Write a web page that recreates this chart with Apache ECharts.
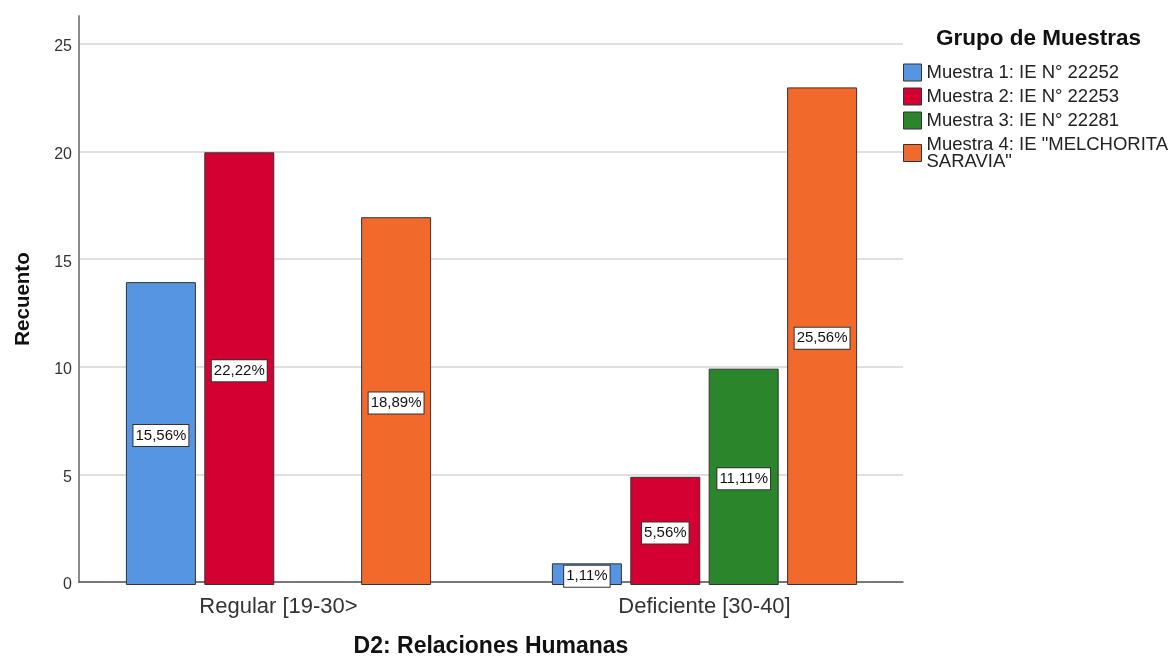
<!DOCTYPE html>
<html>
<head>
<meta charset="utf-8">
<script src="https://cdn.jsdelivr.net/npm/echarts@6/dist/echarts.min.js"></script>
<style>
  html, body { margin: 0; padding: 0; background: #ffffff; }
  #chart { width: 1173px; height: 663px; }
</style>
</head>
<body>
<div id="chart"></div>
<script>
// Recuento por nivel de la dimensión D2 y grupo de muestras
const categories = ['Regular [19-30>', 'Deficiente [30-40]'];
const seriesNames = [
  'Muestra 1: IE N° 22252',
  'Muestra 2: IE N° 22253',
  'Muestra 3: IE N° 22281',
  'Muestra 4: IE "MELCHORITA\nSARAVIA"'
];
const muestra1 = [14, 1];
const muestra2 = [20, 5];
const muestra3 = [null, 10];
const muestra4 = [17, 23];
const yTicks = [0, 5, 10, 15, 20, 25];

const colors = ['#5595e1', '#d50032', '#2b862b', '#f2692c'];
const FONT = '"Liberation Sans", Arial, Helvetica, sans-serif';

// Total de casos: los porcentajes de las etiquetas son recuento / total
const allValues = [muestra1, muestra2, muestra3, muestra4];
const total = allValues.flat().filter(v => v != null).reduce((a, b) => a + b, 0);

function pctLabel(p) {
  return (p.value / total * 100).toFixed(2).replace('.', ',') + '%';
}

const chart = echarts.init(document.getElementById('chart'), null, { renderer: 'canvas' });

const yMax = 26.3;

const series = allValues.map((vals, i) => ({
  name: seriesNames[i],
  type: 'bar',
  xAxisIndex: 1,
  yAxisIndex: 1,
  data: vals,
  barWidth: 70,
  barGap: '12%',
  itemStyle: { color: colors[i], borderColor: '#333333', borderWidth: 1 },
  label: {
    show: true,
    position: 'inside',
    offset: [0, 2],
    formatter: pctLabel,
    fontFamily: FONT,
    fontSize: 15,
    lineHeight: 17,
    color: '#111111',
    backgroundColor: '#ffffff',
    borderColor: '#333333',
    borderWidth: 1,
    padding: [2, 2, 2, 2]
  },
  emphasis: { disabled: true }
}));

chart.setOption({
  animation: false,
  backgroundColor: '#ffffff',
  textStyle: { fontFamily: FONT },
  grid: [
    // frame with axis lines and gridlines
    { left: 79, top: 16, width: 824, height: 569, containLabel: false },
    // bars and category labels
    { left: 65.5, top: 16, width: 852, height: 569, containLabel: false }
  ],
  xAxis: [
    {
      gridIndex: 0,
      type: 'category',
      data: categories,
      axisLine: { show: true, lineStyle: { color: '#555555', width: 1.5 } },
      axisTick: { show: false },
      axisLabel: { show: false },
      splitLine: { show: false },
      name: 'D2: Relaciones Humanas',
      nameLocation: 'middle',
      nameGap: 53,
      nameTextStyle: { fontFamily: FONT, fontSize: 23, fontWeight: 'bold', color: '#111111' }
    },
    {
      gridIndex: 1,
      type: 'category',
      data: categories,
      axisLine: { show: false },
      axisTick: { show: false },
      axisLabel: { show: true, margin: 11, fontFamily: FONT, fontSize: 22, color: '#333333' },
      splitLine: { show: false }
    }
  ],
  yAxis: [
    {
      gridIndex: 0,
      type: 'value',
      min: 0,
      max: yMax,
      interval: 5,
      axisLine: { show: true, lineStyle: { color: '#8c8c8c', width: 2 } },
      axisTick: { show: false },
      axisLabel: {
        show: true,
        margin: 7,
        fontFamily: FONT,
        fontSize: 16,
        color: '#333333',
        verticalAlign: 'top',
        lineHeight: 6,
        showMaxLabel: false,
        formatter: v => (yTicks.indexOf(v) >= 0 ? String(v) : '')
      },
      splitLine: { show: true, showMaxLine: false, lineStyle: { color: '#d4d4d4', width: 1.5 } },
      name: 'Recuento',
      nameLocation: 'middle',
      nameRotate: 90,
      nameGap: 45,
      nameTextStyle: { fontFamily: FONT, fontSize: 20.5, fontWeight: 'bold', color: '#111111' }
    },
    {
      gridIndex: 1,
      type: 'value',
      min: 0,
      max: yMax,
      interval: 5,
      show: false,
      splitLine: { show: false }
    }
  ],
  legend: {
    orient: 'vertical',
    left: 903,
    top: 63,
    padding: 0,
    itemWidth: 18,
    itemHeight: 17,
    itemGap: 5,
    icon: 'rect',
    selectedMode: false,
    data: seriesNames,
    itemStyle: { borderColor: '#333333', borderWidth: 1 },
    textStyle: { fontFamily: FONT, fontSize: 18.5, lineHeight: 17, color: '#222222' }
  },
  graphic: [
    {
      type: 'text',
      left: 936,
      top: 27,
      style: {
        text: 'Grupo de Muestras',
        fontFamily: FONT,
        fontSize: 22.5,
        fontWeight: 'bold',
        fill: '#111111'
      }
    }
  ],
  series: series
});
</script>
</body>
</html>
